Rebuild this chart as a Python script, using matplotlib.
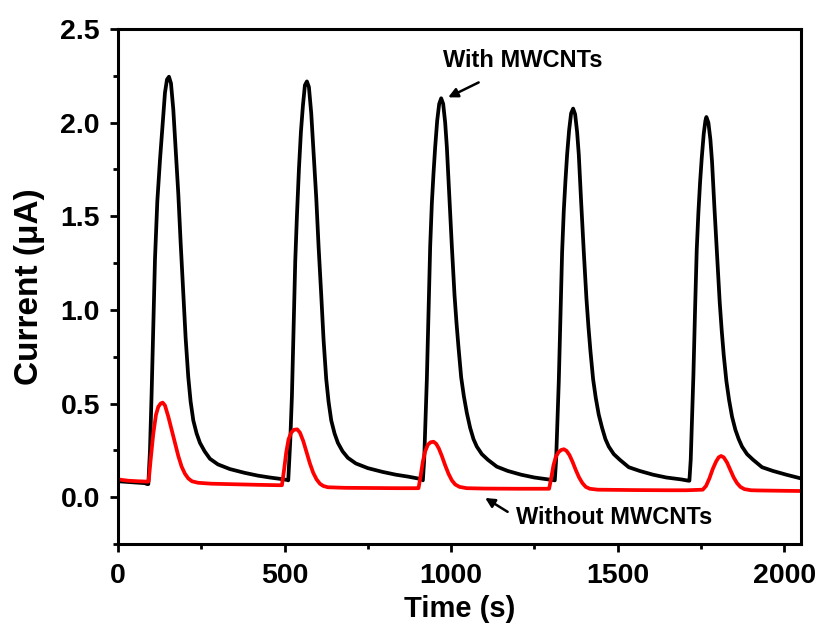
import matplotlib
matplotlib.use("Agg")
import matplotlib.pyplot as plt
from matplotlib.ticker import MultipleLocator

plt.rcParams['font.family'] = ['Liberation Sans', 'DejaVu Sans']
plt.rcParams['font.weight'] = 'bold'

# With MWCNTs (black), time in s, current in uA
with_t = [0, 40, 80, 88, 91, 96, 101, 106, 111, 118, 126, 134, 141, 147, 153, 159, 166, 173, 181, 188,
          196, 203, 211, 218, 226, 236, 246, 260, 276, 300, 336, 380, 420, 456, 490, 508,
          511, 517, 522, 527, 532, 537, 543, 549, 555, 561, 567, 573, 580, 587, 595, 602, 610, 617,
          625, 632, 640, 650, 660, 674, 690, 714, 750, 794, 834, 870, 900, 912,
          915, 919, 923, 927, 932, 937, 942, 947, 952, 958, 964, 970, 976, 982, 987, 994, 1002, 1010,
          1016, 1022, 1030, 1038, 1047, 1057, 1067, 1077, 1092, 1110, 1137, 1170, 1210, 1250, 1290, 1308,
          1311, 1315, 1319, 1323, 1328, 1333, 1338, 1343, 1348, 1354, 1360, 1366, 1372, 1378, 1383, 1390,
          1398, 1406, 1412, 1418, 1426, 1434, 1443, 1453, 1463, 1473, 1488, 1506, 1533, 1566, 1606, 1646,
          1690, 1712,
          1715, 1719, 1723, 1727, 1732, 1737, 1742, 1747, 1752, 1758, 1763, 1766, 1772, 1778, 1783, 1790,
          1798, 1806, 1812, 1818, 1826, 1834, 1843, 1853, 1863, 1873, 1888, 1906, 1933, 1966, 2006, 2050]
with_i = [0.085, 0.08, 0.075, 0.07, 0.07, 0.25, 0.56, 0.92, 1.27, 1.58, 1.80, 1.99, 2.16, 2.23, 2.245, 2.21, 2.07, 1.86, 1.62, 1.36,
          1.09, 0.85, 0.64, 0.51, 0.41, 0.34, 0.29, 0.245, 0.205, 0.175, 0.15, 0.13, 0.115, 0.105, 0.097, 0.092,
          0.09, 0.30, 0.54, 0.90, 1.26, 1.50, 1.75, 1.95, 2.09, 2.20, 2.22, 2.19, 2.05, 1.84, 1.60, 1.34, 1.08, 0.84,
          0.63, 0.51, 0.41, 0.34, 0.29, 0.245, 0.21, 0.18, 0.155, 0.135, 0.12, 0.11, 0.10, 0.095,
          0.09, 0.20, 0.42, 0.63, 0.99, 1.34, 1.57, 1.73, 1.87, 2.01, 2.10, 2.13, 2.10, 2.00, 1.87, 1.62, 1.34, 1.08,
          0.93, 0.80, 0.64, 0.54, 0.45, 0.37, 0.31, 0.27, 0.23, 0.20, 0.163, 0.14, 0.12, 0.105, 0.095, 0.09,
          0.09, 0.20, 0.41, 0.62, 0.97, 1.31, 1.53, 1.69, 1.83, 1.96, 2.05, 2.075, 2.045, 1.95, 1.83, 1.58,
          1.31, 1.06, 0.91, 0.78, 0.63, 0.53, 0.44, 0.37, 0.31, 0.27, 0.23, 0.20, 0.16, 0.14, 0.12, 0.105,
          0.095, 0.088,
          0.088, 0.20, 0.42, 0.65, 1.00, 1.32, 1.52, 1.68, 1.81, 1.94, 2.01, 2.03, 2.00, 1.91, 1.79, 1.55,
          1.29, 1.04, 0.89, 0.76, 0.62, 0.52, 0.43, 0.36, 0.31, 0.27, 0.23, 0.20, 0.16, 0.14, 0.12, 0.10]

# Without MWCNTs (red)
without_t = [0, 30, 60, 90, 92, 98, 106, 114, 121, 128, 134, 141, 151, 161, 171, 181, 191, 201, 211, 222,
             240, 280, 350, 420, 480, 492, 498, 505, 512, 520, 528, 538, 546, 556, 566, 576, 586, 596, 606,
             616, 630, 680, 760, 840, 900, 902, 908, 915, 922, 930, 938, 947, 955, 963, 972, 982, 992,
             1002, 1012, 1025, 1047, 1100, 1200, 1290, 1294, 1300, 1307, 1314, 1322, 1330, 1338, 1346,
             1355, 1364, 1374, 1384, 1394, 1404, 1416, 1440, 1550, 1650, 1706, 1755, 1765, 1775, 1785,
             1795, 1803, 1810, 1818, 1828, 1838, 1848, 1858, 1868, 1880, 1900, 1920, 2000, 2050]
without_i = [0.095, 0.088, 0.085, 0.083, 0.085, 0.20, 0.34, 0.44, 0.483, 0.50, 0.505, 0.49, 0.43, 0.36, 0.29, 0.22, 0.163, 0.125, 0.10, 0.085,
             0.077, 0.072, 0.069, 0.066, 0.064, 0.064, 0.14, 0.24, 0.31, 0.345, 0.36, 0.362, 0.345, 0.30, 0.24, 0.18, 0.13, 0.095, 0.072,
             0.06, 0.053, 0.05, 0.049, 0.048, 0.048, 0.048, 0.11, 0.19, 0.245, 0.28, 0.293, 0.296, 0.285, 0.26, 0.22, 0.17, 0.125,
             0.09, 0.068, 0.055, 0.048, 0.046, 0.045, 0.045, 0.045, 0.10, 0.17, 0.215, 0.24, 0.252, 0.256, 0.248,
             0.225, 0.19, 0.145, 0.105, 0.075, 0.055, 0.045, 0.04, 0.038, 0.037, 0.037, 0.04, 0.06, 0.10, 0.15,
             0.19, 0.213, 0.22, 0.213, 0.185, 0.145, 0.105, 0.075, 0.055, 0.043, 0.037, 0.036, 0.034, 0.033]

x_ticks = [0, 500, 1000, 1500, 2000]
y_ticks = [0.0, 0.5, 1.0, 1.5, 2.0, 2.5]

fig = plt.figure(figsize=(8.24, 6.33), dpi=100)
ax = fig.add_axes([0.1432, 0.1406, 0.8289, 0.8136])

ax.plot(with_t, with_i, color='black', lw=2.7, solid_joinstyle='round')
ax.plot(without_t, without_i, color='#ff0000', lw=2.7, solid_joinstyle='round')

ax.set_xlim(0, 2050)
ax.set_ylim(-0.25, 2.5)
ax.set_xticks(x_ticks)
ax.set_yticks(y_ticks)
ax.set_xticklabels([str(v) for v in x_ticks])
ax.set_yticklabels([f"{v:.1f}" for v in y_ticks])
ax.xaxis.set_minor_locator(MultipleLocator(250))
ax.yaxis.set_minor_locator(MultipleLocator(0.25))

for s in ax.spines.values():
    s.set_linewidth(2.2)
ax.tick_params(which='major', direction='out', length=6, width=2.0, labelsize=20.5,
               top=False, right=False)
ax.tick_params(axis='x', which='major', pad=8)
ax.tick_params(axis='y', which='major', pad=7)
ax.tick_params(which='minor', direction='out', length=3.5, width=2.0, top=False, right=False)
for lab in ax.get_xticklabels() + ax.get_yticklabels():
    lab.set_fontweight('bold')

ax.set_xlabel('Time (s)', fontsize=21, fontweight='bold', labelpad=4)
ax.set_ylabel('Current (\u03bcA)', fontsize=24, fontweight='bold', labelpad=11)

ax.annotate('With MWCNTs', xy=(991, 2.135), xytext=(1215, 2.33), fontsize=17, fontweight='bold',
            ha='center', va='center',
            arrowprops=dict(arrowstyle='-|>', color='black', lw=1.8, mutation_scale=14,
                            shrinkA=12, shrinkB=0))
ax.annotate('Without MWCNTs', xy=(1102, -0.004), xytext=(1490, -0.107), fontsize=17, fontweight='bold',
            ha='center', va='center',
            arrowprops=dict(arrowstyle='-|>', color='black', lw=1.8, mutation_scale=14,
                            shrinkA=5, shrinkB=0, relpos=(0.0, 0.5)))

fig.savefig('out.png', dpi=100)
